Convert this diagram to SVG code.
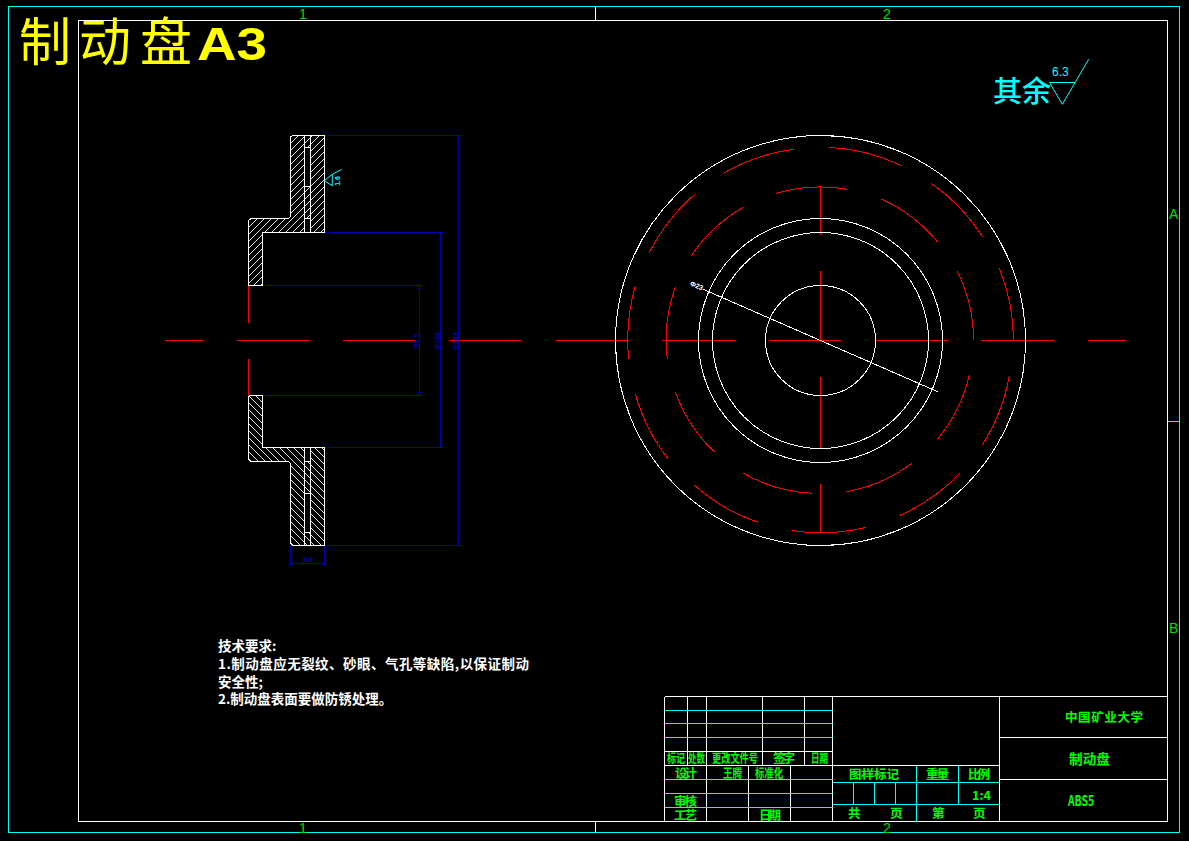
<svg xmlns="http://www.w3.org/2000/svg" width="1189" height="841" viewBox="0 0 1189 841">
<style>
.w{fill:none;stroke:#fff;stroke-width:1;shape-rendering:crispEdges}
.c{fill:none;stroke:#0ff;stroke-width:1;shape-rendering:crispEdges}
.r{fill:none;stroke:#f00;stroke-width:1;shape-rendering:crispEdges}
.b{fill:none;stroke:#0000b0;stroke-width:1;shape-rendering:crispEdges}
.ba{fill:#0000b0}
.h1{fill:url(#h1)}
.h2{fill:url(#h2)}
.g{fill:#0f0;font-family:"Noto Sans CJK SC","Liberation Sans",sans-serif;font-size:12.500px;font-weight:700}
.f{fill:#0d0;font-family:"Liberation Sans",sans-serif;font-size:14px}
.n{fill:#fff;font-family:"Noto Sans CJK SC","Liberation Sans",sans-serif;font-size:13.500px;font-weight:700}
.d{fill:#0000b0;font-family:"Liberation Sans",sans-serif;font-size:7px;font-weight:700}
</style>
<defs>
<pattern id="h1" patternUnits="userSpaceOnUse" width="7" height="7"><path d="M-1 8L8 -1M-1 1L1 -1M6 8L8 6" stroke="#fff" stroke-width="0.9" fill="none"/></pattern>
<pattern id="h2" patternUnits="userSpaceOnUse" width="7" height="7"><path d="M-1 -1L8 8M6 -1L8 1M-1 6L1 8" stroke="#fff" stroke-width="0.9" fill="none"/></pattern>
</defs>
<rect width="1189" height="841" fill="#000"/>

<g id="frame">
<rect class="c" x="8.500" y="6.500" width="1171" height="826"/>
<rect class="w" x="78.500" y="20.500" width="1089" height="801"/>
<path class="w" d="M595.500 6.500V20.500M595.500 821.500V832.500"/>
<path class="c" d="M1167.500 421.500H1179.500"/>
<text class="f" x="299" y="19">1</text>
<text class="f" x="883" y="19">2</text>
<text class="f" x="299" y="833">1</text>
<text class="f" x="883" y="833">2</text>
<text class="f" x="1169" y="219">A</text>
<text class="f" x="1169" y="633">B</text>
</g>

<text id="title" x="19 79 140" y="61" fill="#ff0" font-family="'Noto Sans CJK SC','Liberation Sans',sans-serif" font-size="52">制动盘<tspan x="197" y="60" font-family="'Liberation Sans',sans-serif" font-size="47" font-weight="700" textLength="70" lengthAdjust="spacingAndGlyphs">A3</tspan></text>

<g id="roughness-note">
<text x="993" y="102" fill="#0ff" font-family="'Noto Sans CJK SC',sans-serif" font-size="29" font-weight="500">其余</text>
<text x="1052" y="76" fill="#0ff" font-family="'Liberation Sans',sans-serif" font-size="12">6.3</text>
<path d="M1049.500 82.500H1075M1049.500 82.500L1062.300 104.300L1088.700 59.300" fill="none" stroke="#0ff"/>
</g>

<g id="section-view">
<path class="w h1" d="M292.500 135.500H304.500V232.500H262.500V285.500H248.500V220.500L251 218.500H288.500L290.500 216.500V137Z"/>
<path class="w h1" d="M310.500 135.500H324.500V232.500H310.500Z"/>
<path class="w h1" d="M304.500 135.500H310.500V147.500H304.500ZM304.500 186.500H310.500V218.500H304.500Z"/>
<path class="w" d="M304.500 218.500V232.500H310.500V218.500"/>
<path class="w h2" d="M292.500 545.500H304.500V447.500H262.500V395.500H248.500V459.500L251 461.500H288.500L290.500 463.500V543Z"/>
<path class="w h2" d="M310.500 545.500H324.500V447.500H310.500Z"/>
<path class="w h2" d="M304.500 545.500H310.500V532.500H304.500ZM304.500 493.500H310.500V461.500H304.500Z"/>
<path class="w" d="M304.500 461.500V447.500H310.500V461.500"/>
<path class="r" d="M248.500 285.500V322.500M248.500 358.500V395.500"/>
<g id="section-roughness">
<path d="M324 180.700L332.300 174.300L341.700 169.300M324 180.700L332.300 185.700V174.300" fill="none" stroke="#0ff"/>
<text transform="translate(340 181) rotate(-90)" text-anchor="middle" fill="#0ff" font-family="'Liberation Sans',sans-serif" font-size="7" font-weight="700">1.6</text>
</g>
</g>

<g id="connectors">
<path class="r" d="M165 340.500H203M237 340.500H309M343 340.500H415M449 340.500H522M556 340.500H628M662 340.500H735M769 340.500H841M875 340.500H947M981 340.500H1054M1088 340.500H1126"/>
<path class="r" d="M820.500 186V235M820.500 271V342M820.500 377V448M820.500 484V533"/>
<path class="b" d="M324.500 135.500H460.500M324.500 545.500H460.500M458.500 135.500V545.500"/>
<path class="b" d="M324.500 232.500H442.500M324.500 447.500H442.500M440.500 232.500V447.500"/>
<path class="b" d="M262.500 285.500H421.500M262.500 395.500H421.500M419.500 285.500V395.500"/>
<path class="b" d="M290.500 546V565.500M324.500 546V565.500M290.500 563.500H324.500"/>
<path class="ba" d="M457 139H460L458.500 136ZM457 542H460L458.500 545ZM439 236H442L440.500 233ZM439 444H442L440.500 447ZM418 289H421L419.500 286ZM418 392H421L419.500 395ZM294 562V565L291 563.500ZM321 562V565L324 563.500Z"/>
<text class="d" transform="translate(419 341) rotate(-90)" text-anchor="middle">Φ2.5</text>
<text class="d" transform="translate(440 341) rotate(-90)" text-anchor="middle">Φ154</text>
<text class="d" transform="translate(458 341) rotate(-90)" text-anchor="middle">Φ254</text>
<text class="d" x="307.500" y="562" text-anchor="middle">E4</text>
<path class="w" d="M703 289.200L937.700 391.700"/>
<text transform="translate(696.500 286) rotate(23.500)" text-anchor="middle" fill="#fff" font-family="'Liberation Sans',sans-serif" font-size="7" font-weight="700" y="2">Φ23</text>
</g>

<g id="front-view">
<circle class="w" cx="820.500" cy="340.500" r="205"/>
<circle class="w" cx="820.500" cy="340.500" r="122"/>
<circle class="w" cx="820.500" cy="340.500" r="108"/>
<circle class="w" cx="820.500" cy="340.500" r="55"/>
<path class="r" d="M723.300 173.300A193 193 0 0 1 792.700 149.300M829.300 147.300A193 193 0 0 1 900.700 165.300M931.300 183.300A193 193 0 0 1 982.700 236.700M999.300 268.300A193 193 0 0 1 1013.500 340.500M1009.300 376A193 193 0 0 1 982.300 445M960 473.300A193 193 0 0 1 900 515.300M866 527.300A193 193 0 0 1 792.300 530.700M757.700 522.300A193 193 0 0 1 694 485M668.300 459.300A193 193 0 0 1 635.300 394M628.700 358.700A193 193 0 0 1 635.300 286M649.300 252.700A193 193 0 0 1 694.700 194.300"/>
<path class="r" d="M691.300 255.700A154 154 0 0 1 743.300 207.300M776.300 193.300A154 154 0 0 1 846.700 189.300M881.300 199A154 154 0 0 1 937.300 241.700M957.300 271.300A154 154 0 0 1 973.500 340.500M969.300 375A154 154 0 0 1 937.300 439.300M911.700 463.300A154 154 0 0 1 846.300 491.700M812 493.300A154 154 0 0 1 743.300 473.300M714.700 452.300A154 154 0 0 1 675.300 392M667.300 358.700A154 154 0 0 1 675.300 287.300"/>
</g>

<g id="technical-notes">
<text class="n" x="218" y="651">技术要求:</text>
<text class="n" x="218" y="669" textLength="311">1.制动盘应无裂纹、砂眼、气孔等缺陷,以保证制动</text>
<text class="n" x="218" y="687">安全性;</text>
<text class="n" x="218" y="704">2.制动盘表面要做防锈处理。</text>
</g>

<g id="title-block">
<path class="w" d="M664.500 696.500H1167.500M664.500 696.500V821.500M687.500 696.500V765.500M706.500 696.500V821.500M762.500 696.500V765.500M804.500 696.500V765.500M832.500 696.500V821.500M999.500 696.500V821.500M664.500 751.500H832.500M664.500 765.500H999.500M748.500 765.500V821.500M790.500 765.500V821.500M999.500 737.500H1167.500M999.500 779.500H1167.500"/>
<path class="c" d="M664.500 710.500H832.500M664.500 723.500H832.500M664.500 737.500H832.500M664.500 779.500H832.500M664.500 793.500H832.500M664.500 807.500H832.500M832.500 782.500H999.500M832.500 804.500H999.500M916.500 765.500V821.500M958.500 765.500V804.500M853.500 782.500V804.500M874.500 782.500V804.500M895.500 782.500V804.500"/>
<g class="g">
<text x="667" y="763" textLength="18" lengthAdjust="spacingAndGlyphs">标记</text>
<text x="688" y="763" textLength="17" lengthAdjust="spacingAndGlyphs">处数</text>
<text x="712" y="763" textLength="46" lengthAdjust="spacingAndGlyphs">更改文件号</text>
<text x="773" y="763" textLength="22">签字</text>
<text x="811" y="763" textLength="17" lengthAdjust="spacingAndGlyphs">日期</text>
<text x="675" y="778" textLength="22">设计</text>
<text x="723" y="778" textLength="19" lengthAdjust="spacingAndGlyphs">王腾</text>
<text x="755" y="778" textLength="28" lengthAdjust="spacingAndGlyphs">标准化</text>
<text x="674" y="806" textLength="23">审核</text>
<text x="674" y="820" textLength="23">工艺</text>
<text x="759" y="820" textLength="22">日期</text>
<text x="849" y="779" textLength="50">图样标记</text>
<text x="926" y="779" textLength="23">重量</text>
<text x="968" y="779" textLength="22">比例</text>
<text x="972" y="800" textLength="19">1:4</text>
<text x="848" y="818">共</text>
<text x="890" y="818">页</text>
<text x="932" y="818">第</text>
<text x="973" y="818">页</text>
</g>
<text class="g" x="1065" y="722" textLength="78">中国矿业大学</text>
<text class="g" style="font-size:14px" x="1069" y="764" textLength="41" lengthAdjust="spacingAndGlyphs">制动盘</text>
<text class="g" style="font-size:15px" x="1068" y="806" textLength="26" lengthAdjust="spacingAndGlyphs">ABS5</text>
</g>
</svg>
